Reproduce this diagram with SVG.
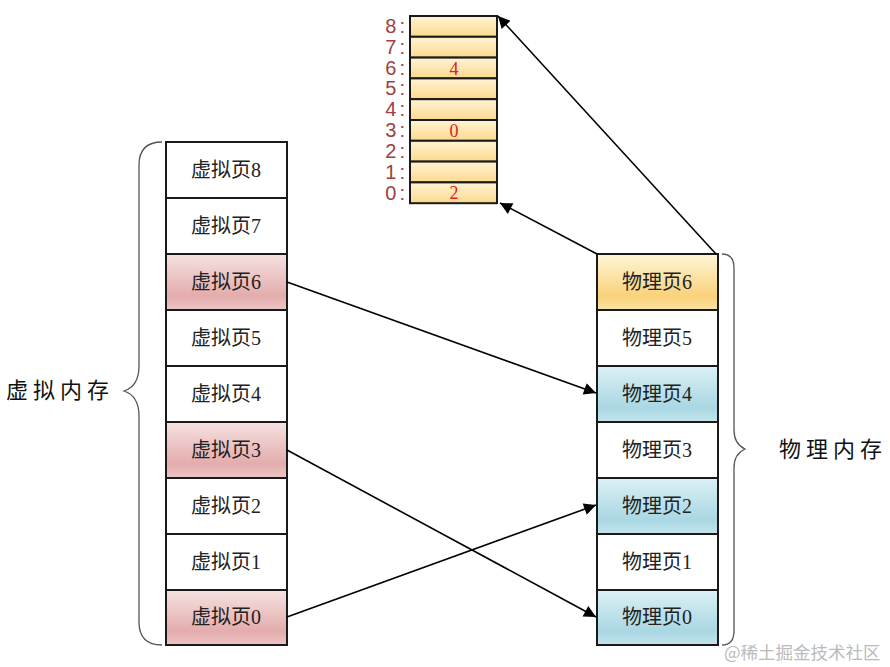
<svg xmlns="http://www.w3.org/2000/svg" width="890" height="667" viewBox="0 0 890 667">
<defs>
<linearGradient id="pink" x1="0" y1="0" x2="0" y2="1"><stop offset="0" stop-color="#f6e1e1"/><stop offset="0.75" stop-color="#e4acac"/><stop offset="1" stop-color="#eec5c5"/></linearGradient>
<linearGradient id="blue" x1="0" y1="0" x2="0" y2="1"><stop offset="0" stop-color="#dcf0f5"/><stop offset="0.75" stop-color="#a9d7e3"/><stop offset="1" stop-color="#c4e4ec"/></linearGradient>
<linearGradient id="yellow" x1="0" y1="0" x2="0" y2="1"><stop offset="0" stop-color="#fff6d8"/><stop offset="0.75" stop-color="#f9d27a"/><stop offset="1" stop-color="#fbe2a4"/></linearGradient>
<linearGradient id="ly" x1="0" y1="0" x2="0" y2="1"><stop offset="0" stop-color="#fff4d4"/><stop offset="1" stop-color="#fbd98e"/></linearGradient>
<marker id="ah" viewBox="0 0 10 10" refX="10" refY="5" markerWidth="13" markerHeight="12" markerUnits="userSpaceOnUse" orient="auto"><path d="M0,0 L10,5 L0,10 z" fill="#000"/></marker>
</defs>
<style>
.cell{stroke:#1a1a1a;stroke-width:2}
.w{fill:#fff}
.t{font-family:"Liberation Serif","Noto Sans CJK SC",serif;font-size:20px;fill:#222;text-anchor:middle}
.n{font-family:"Liberation Serif",serif;font-size:18px;fill:#e02020;text-anchor:middle}
.lab{font-family:"Liberation Sans",sans-serif;font-size:20px;fill:#a04040;text-anchor:end;letter-spacing:3px}
.big{font-family:"Noto Sans CJK SC",sans-serif;font-size:22px;fill:#111;letter-spacing:5px}
.br{fill:none;stroke:#555;stroke-width:1.3}
.ln{stroke:#000;stroke-width:1.6;fill:none;marker-end:url(#ah)}
</style>
<rect width="890" height="667" fill="#fff"/>
<g id="virtual">
<rect class="cell w" x="166" y="142" width="121" height="56"/><text class="t" x="226" y="177">虚拟页8</text>
<rect class="cell w" x="166" y="198" width="121" height="56"/><text class="t" x="226" y="233">虚拟页7</text>
<rect class="cell" fill="url(#pink)" x="166" y="254" width="121" height="56"/><text class="t" x="226" y="289">虚拟页6</text>
<rect class="cell w" x="166" y="310" width="121" height="56"/><text class="t" x="226" y="345">虚拟页5</text>
<rect class="cell w" x="166" y="366" width="121" height="56"/><text class="t" x="226" y="401">虚拟页4</text>
<rect class="cell" fill="url(#pink)" x="166" y="422" width="121" height="56"/><text class="t" x="226" y="457">虚拟页3</text>
<rect class="cell w" x="166" y="478" width="121" height="56"/><text class="t" x="226" y="513">虚拟页2</text>
<rect class="cell w" x="166" y="534" width="121" height="56"/><text class="t" x="226" y="569">虚拟页1</text>
<rect class="cell" fill="url(#pink)" x="166" y="590" width="121" height="55"/><text class="t" x="226" y="624">虚拟页0</text>
</g>
<g id="physical">
<rect class="cell" fill="url(#yellow)" x="597" y="254" width="121" height="56"/><text class="t" x="657" y="289">物理页6</text>
<rect class="cell w" x="597" y="310" width="121" height="56"/><text class="t" x="657" y="345">物理页5</text>
<rect class="cell" fill="url(#blue)" x="597" y="366" width="121" height="56"/><text class="t" x="657" y="401">物理页4</text>
<rect class="cell w" x="597" y="422" width="121" height="56"/><text class="t" x="657" y="457">物理页3</text>
<rect class="cell" fill="url(#blue)" x="597" y="478" width="121" height="56"/><text class="t" x="657" y="513">物理页2</text>
<rect class="cell w" x="597" y="534" width="121" height="56"/><text class="t" x="657" y="569">物理页1</text>
<rect class="cell" fill="url(#blue)" x="597" y="590" width="121" height="55"/><text class="t" x="657" y="624">物理页0</text>
</g>
<g id="pagetable">
<rect class="cell" fill="url(#ly)" x="410" y="16" width="87" height="20.8"/>
<rect class="cell" fill="url(#ly)" x="410" y="36.8" width="87" height="20.8"/>
<rect class="cell" fill="url(#ly)" x="410" y="57.6" width="87" height="20.8"/>
<rect class="cell" fill="url(#ly)" x="410" y="78.4" width="87" height="20.8"/>
<rect class="cell" fill="url(#ly)" x="410" y="99.2" width="87" height="20.8"/>
<rect class="cell" fill="url(#ly)" x="410" y="120" width="87" height="20.8"/>
<rect class="cell" fill="url(#ly)" x="410" y="140.8" width="87" height="20.8"/>
<rect class="cell" fill="url(#ly)" x="410" y="161.6" width="87" height="20.8"/>
<rect class="cell" fill="url(#ly)" x="410" y="182.4" width="87" height="20.8"/>
<text class="n" x="454" y="75">4</text>
<text class="n" x="454" y="137">0</text>
<text class="n" x="454" y="199">2</text>
<text class="lab" x="408" y="33">8:</text>
<text class="lab" x="408" y="54">7:</text>
<text class="lab" x="408" y="75">6:</text>
<text class="lab" x="408" y="95">5:</text>
<text class="lab" x="408" y="116">4:</text>
<text class="lab" x="408" y="137">3:</text>
<text class="lab" x="408" y="158">2:</text>
<text class="lab" x="408" y="179">1:</text>
<text class="lab" x="408" y="200">0:</text>
</g>
<g id="braces">
<path class="br" d="M162,142 Q139,142 139,165 L139,366 Q139,386 124,391 Q139,396 139,416 L139,622 Q139,645 162,645"/>
<path class="br" d="M722,254 Q734,254 734,268 L734,430 Q734,444 745,449 Q734,454 734,468 L734,631 Q734,645 722,645"/>
</g>
<g id="labels">
<text class="big" x="6" y="398">虚拟内存</text>
<text class="big" x="779" y="457">物理内存</text>
<text x="724" y="659" font-family="Noto Sans CJK SC,sans-serif" font-size="17.5" fill="#bbb">@稀土掘金技术社区</text>
</g>
<g id="connectors">
<line class="ln" x1="287" y1="282" x2="596" y2="393"/>
<line class="ln" x1="287" y1="450" x2="596" y2="617"/>
<line class="ln" x1="287" y1="617" x2="596" y2="505"/>
<line class="ln" x1="597" y1="254" x2="500" y2="203"/>
<line class="ln" x1="716" y1="254" x2="498" y2="16"/>
</g>
</svg>
